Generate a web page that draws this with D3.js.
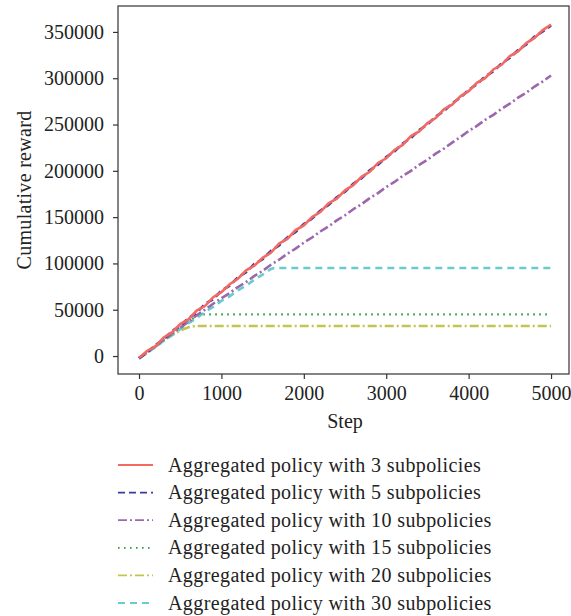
<!DOCTYPE html>
<html>
<head>
<meta charset="utf-8">
<script src="https://cdn.jsdelivr.net/npm/d3@7"></script>
<style>
  body { margin: 0; background: #fff; }
  text { font-family: "Liberation Serif", "DejaVu Serif", serif; fill: #222; }
</style>
</head>
<body>
<script>
// steps
var steps = d3.range(0, 5001, 100);

// cumulative reward per series (one value per step above, or [step, value] pairs)
var reward3 = [-2000, 5500, 10500, 20000, 25500, 34500, 39500, 49000, 54000, 63500,
  69000, 77500, 83500, 92500, 97500, 106000, 111500, 121500, 126500, 136000,
  141000, 150000, 155500, 165000, 170000, 179000, 184500, 193500, 199000, 208500,
  213500, 222500, 228000, 237500, 242500, 251500, 257000, 266500, 271500, 280500,
  286000, 295000, 300000, 309500, 314500, 324000, 329000, 338000, 343500, 352000, 358000];
var reward5 = [-2500, 4000, 12000, 18000, 27000, 32500, 41000, 47000, 56000, 61500,
  70500, 76000, 85000, 90500, 99500, 104500, 113500, 119500, 128000, 134000,
  142500, 148500, 157000, 163000, 171500, 177500, 186000, 192000, 200500, 206500,
  215000, 221000, 229500, 235500, 244000, 250000, 258500, 264500, 273000, 279000,
  287500, 293500, 302000, 307500, 316000, 322000, 330500, 336500, 345000, 350500, 357000];
var reward10 = [-2000, 4000, 10500, 17500, 24000, 30500, 37000, 44000, 50000, 56500,
  62500, 68000, 74500, 80000, 86500, 92000, 98500, 104000, 110500, 116000,
  122500, 128000, 134500, 140000, 146500, 152000, 158500, 164000, 170500, 176000,
  182500, 188000, 194500, 200000, 206500, 212000, 218500, 224000, 230500, 236500,
  243000, 248500, 255000, 260500, 267000, 272500, 279000, 284500, 291000, 296500, 303000];
var reward15 = [[0, -2000], [100, 4000], [200, 10500], [300, 17500], [400, 24000],
  [500, 30500], [600, 37500], [700, 43000], [780, 45000], [5000, 45000]];
var reward20 = [[0, -2500], [100, 4000], [200, 10000], [300, 16500], [400, 22500],
  [500, 27500], [600, 31000], [680, 32500], [5000, 32500]];
var reward30 = [[0, -2500], [100, 3500], [200, 9500], [300, 16500], [400, 22500],
  [500, 29000], [600, 35500], [700, 41000], [800, 47500], [900, 53000],
  [1000, 59500], [1100, 64500], [1200, 71000], [1300, 76000], [1400, 82500],
  [1500, 88000], [1600, 94000], [1640, 95000], [5000, 95000]];

var yTicks = [0, 50000, 100000, 150000, 200000, 250000, 300000, 350000];
var xTicks = [0, 1000, 2000, 3000, 4000, 5000];

var seriesNames = ["Aggregated policy with 3 subpolicies", "Aggregated policy with 5 subpolicies",
  "Aggregated policy with 10 subpolicies", "Aggregated policy with 15 subpolicies",
  "Aggregated policy with 20 subpolicies", "Aggregated policy with 30 subpolicies"];
var seriesColors = ["#f26a62", "#3b3a9e", "#9c68ad", "#2f9a4a", "#c4c452", "#68cccc"];
var seriesDash = ["", "7,4", "9,3,2,3", "1.6,4.4", "9,3,2,3", "7,5"];

function pairs(vals) {
  return vals.map(function(v, i) { return [steps[i], v]; });
}
var seriesData = [pairs(reward3), pairs(reward5), pairs(reward10), reward15, reward20, reward30];

var margin = {top: 6, right: 2, bottom: 242, left: 118};
var W = 571, H = 616;
var w = W - margin.left - margin.right;
var h = H - margin.top - margin.bottom;

var svg = d3.select("body").append("svg")
  .attr("width", W)
  .attr("height", H);

var g = svg.append("g")
  .attr("transform", "translate(" + margin.left + "," + margin.top + ")");

var x = d3.scaleLinear().domain([-255, 5218]).range([0, w]);
var y = d3.scaleLinear().domain([-19400, 378000]).range([h, 0]);

var line = d3.line()
  .x(function(d) { return x(d[0]); })
  .y(function(d) { return y(d[1]); });

// draw lines back to front so red/blue sit on top like the reference
var order = [4, 3, 5, 2, 1, 0];
order.forEach(function(i) {
  g.append("path")
    .datum(seriesData[i])
    .attr("fill", "none")
    .attr("stroke", seriesColors[i])
    .attr("stroke-width", i == 3 ? 2.4 : 2.6)
    .attr("stroke-dasharray", seriesDash[i])
    .attr("d", line);
});

// frame
g.append("rect")
  .attr("width", w)
  .attr("height", h)
  .attr("fill", "none")
  .attr("stroke", "#333")
  .attr("stroke-width", 1.2);

var xAxis = g.append("g")
  .attr("transform", "translate(0," + h + ")")
  .call(d3.axisBottom(x).tickValues(xTicks).tickSize(5).tickPadding(7).tickFormat(d3.format("d")));
var yAxis = g.append("g")
  .call(d3.axisLeft(y).tickValues(yTicks).tickSize(5).tickPadding(9).tickFormat(d3.format("d")));

[xAxis, yAxis].forEach(function(a) {
  a.select(".domain").remove();
  a.selectAll("line").attr("stroke", "#333").attr("stroke-width", 1.2);
  a.selectAll("text").style("font-size", "20px").style("font-family", "Liberation Serif, serif").attr("fill", "#222");
});

g.append("text")
  .attr("x", x(2500))
  .attr("y", h + 54)
  .attr("text-anchor", "middle")
  .style("font-size", "20px")
  .text("Step");

svg.append("text")
  .attr("transform", "translate(31," + (margin.top + h / 2) + ") rotate(-90)")
  .attr("text-anchor", "middle")
  .style("font-size", "20px")
  .style("letter-spacing", "0.3px")
  .text("Cumulative reward");

// legend
var legend = svg.selectAll("g.legendEntry")
  .data(seriesNames)
  .enter()
  .append("g")
  .attr("class", "legendEntry")
  .attr("transform", function(d, i) { return "translate(118," + (465 + i * 27.6) + ")"; });

legend.append("line")
  .attr("x1", 0).attr("x2", 35)
  .attr("stroke", function(d, i) { return seriesColors[i]; })
  .attr("stroke-width", 1.8)
  .attr("stroke-dasharray", function(d, i) { return seriesDash[i]; });

legend.append("text")
  .attr("x", 50)
  .attr("dy", "0.33em")
  .style("font-size", "20px")
  .style("letter-spacing", "0.4px")
  .text(function(d) { return d; });
</script>
</body>
</html>
